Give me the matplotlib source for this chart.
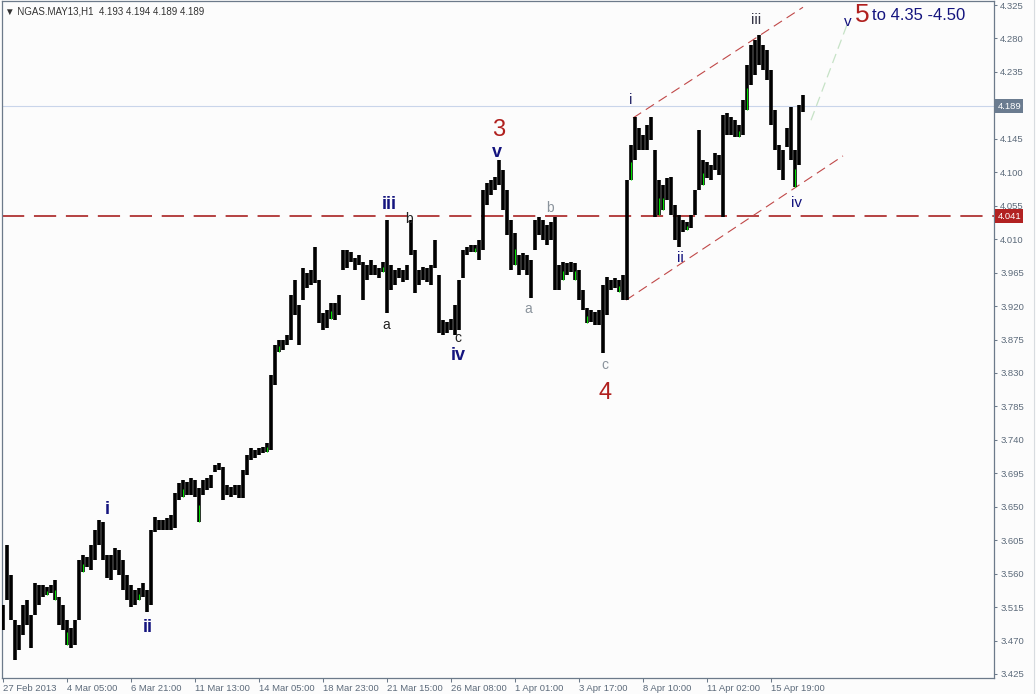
import matplotlib.pyplot as plt
from matplotlib.lines import Line2D

plt.rcParams['font.family'] = ['Liberation Sans', 'DejaVu Sans']
plt.rcParams['lines.scale_dashes'] = False

# NGAS.MAY13 H1, one column = 4 hourly bars
highs = [3.518, 3.599, 3.558, 3.498, 3.491, 3.518, 3.525, 3.504, 3.547, 3.545,
         3.545, 3.542, 3.545, 3.551, 3.529, 3.518, 3.498, 3.487, 3.498, 3.578,
         3.585, 3.582, 3.599, 3.619, 3.632, 3.629, 3.585, 3.585, 3.594, 3.592,
         3.578, 3.558, 3.545, 3.538, 3.541, 3.547, 3.538, 3.619, 3.636, 3.632,
         3.632, 3.635, 3.639, 3.668, 3.682, 3.686, 3.683, 3.689, 3.686, 3.675,
         3.686, 3.689, 3.693, 3.706, 3.709, 3.703, 3.679, 3.677, 3.679, 3.679,
         3.699, 3.720, 3.729, 3.726, 3.729, 3.730, 3.736, 3.827, 3.868, 3.874,
         3.874, 3.881, 3.935, 3.955, 3.921, 3.971, 3.964, 3.968, 3.999, 3.955,
         3.911, 3.915, 3.924, 3.924, 3.935, 3.995, 3.995, 3.993, 3.985, 3.989,
         3.979, 3.975, 3.982, 3.975, 3.971, 3.979, 4.036, 3.975, 3.968, 3.971,
         3.968, 3.975, 4.036, 3.995, 3.968, 3.973, 3.971, 3.975, 4.009, 3.962,
         3.901, 3.899, 3.902, 3.921, 3.955, 3.995, 3.999, 4.002, 4.002, 4.009,
         4.076, 4.086, 4.090, 4.094, 4.116, 4.103, 4.076, 4.036, 4.018, 3.989,
         3.991, 3.989, 3.982, 4.036, 4.040, 4.036, 4.029, 4.033, 4.040, 3.975,
         3.979, 3.978, 3.979, 3.978, 3.968, 3.942, 3.917, 3.915, 3.912, 3.915,
         3.948, 3.959, 3.955, 3.958, 3.955, 3.962, 4.090, 4.137, 4.174, 4.160,
         4.150, 4.164, 4.174, 4.130, 4.090, 4.083, 4.092, 4.094, 4.056, 4.042,
         4.036, 4.033, 4.042, 4.076, 4.157, 4.116, 4.114, 4.110, 4.126, 4.123,
         4.177, 4.180, 4.174, 4.170, 4.164, 4.197, 4.244, 4.271, 4.278, 4.285,
         4.271, 4.264, 4.238, 4.184, 4.137, 4.130, 4.160, 4.188, 4.130, 4.190,
         4.204]
lows = [3.484, 3.525, 3.498, 3.444, 3.457, 3.477, 3.491, 3.460, 3.504, 3.518,
        3.529, 3.531, 3.534, 3.525, 3.491, 3.484, 3.464, 3.460, 3.464, 3.498,
        3.562, 3.569, 3.565, 3.578, 3.599, 3.578, 3.554, 3.551, 3.565, 3.558,
        3.538, 3.525, 3.515, 3.518, 3.525, 3.529, 3.508, 3.518, 3.616, 3.619,
        3.619, 3.619, 3.619, 3.621, 3.659, 3.663, 3.666, 3.666, 3.663, 3.629,
        3.666, 3.673, 3.675, 3.697, 3.699, 3.659, 3.666, 3.663, 3.666, 3.662,
        3.662, 3.693, 3.713, 3.716, 3.720, 3.722, 3.724, 3.726, 3.814, 3.858,
        3.861, 3.868, 3.874, 3.908, 3.868, 3.928, 3.944, 3.948, 3.951, 3.897,
        3.888, 3.890, 3.902, 3.901, 3.908, 3.968, 3.971, 3.979, 3.968, 3.975,
        3.928, 3.955, 3.962, 3.962, 3.958, 3.966, 3.911, 3.942, 3.948, 3.958,
        3.952, 3.955, 3.989, 3.938, 3.948, 3.955, 3.952, 3.948, 3.971, 3.884,
        3.881, 3.884, 3.888, 3.881, 3.888, 3.958, 3.989, 3.993, 3.993, 3.982,
        3.995, 4.056, 4.069, 4.076, 4.083, 4.049, 4.016, 3.968, 3.975, 3.962,
        3.968, 3.962, 3.931, 3.995, 4.016, 4.009, 4.002, 4.009, 3.942, 3.942,
        3.955, 3.962, 3.966, 3.955, 3.928, 3.915, 3.897, 3.899, 3.894, 3.894,
        3.857, 3.908, 3.942, 3.944, 3.939, 3.928, 3.928, 4.090, 4.116, 4.130,
        4.130, 4.130, 4.143, 4.040, 4.042, 4.049, 4.063, 4.042, 4.009, 3.999,
        4.020, 4.022, 4.025, 4.042, 4.076, 4.083, 4.092, 4.090, 4.103, 4.096,
        4.040, 4.150, 4.150, 4.147, 4.147, 4.150, 4.184, 4.217, 4.231, 4.244,
        4.238, 4.224, 4.164, 4.130, 4.103, 4.090, 4.134, 4.116, 4.080, 4.110,
        4.181]
green = [11, 13, 16, 20, 34, 45, 49, 66, 69, 82, 95, 118, 128, 140, 143, 146,
         154, 157, 164, 165, 171, 175, 184, 186, 198]

tick_pos = [0, 16, 32, 48, 64, 80, 96, 112, 128, 144, 160, 176, 192]
tick_labels = ['27 Feb 2013', '4 Mar 05:00', '6 Mar 21:00', '11 Mar 13:00',
               '14 Mar 05:00', '18 Mar 23:00', '21 Mar 15:00', '26 Mar 08:00',
               '1 Apr 01:00', '3 Apr 17:00', '8 Apr 10:00', '11 Apr 02:00',
               '15 Apr 19:00']
price_ticks = [3.425, 3.470, 3.515, 3.560, 3.605, 3.650, 3.695, 3.740, 3.785,
               3.830, 3.875, 3.920, 3.965, 4.010, 4.055, 4.100, 4.145, 4.190,
               4.235, 4.280, 4.325]

last_price = 4.189
level = 4.041
upper_x, upper_y = [157.5, 200], [4.173, 4.322]
lower_x, lower_y = [155.75, 210], [3.928, 4.122]
target_x, target_y = [202, 211.25], [4.170, 4.302]

bg = '#fcfcfc'
axis_col = '#6c7a8a'
navy = '#14147e'
red = '#b0201e'

fig = plt.figure(figsize=(10.36, 6.94), dpi=100, facecolor=bg)
ax = fig.add_axes([2 / 1036, 16 / 694, 992 / 1036, 677 / 694], facecolor=bg)

idx = list(range(len(highs)))
ax.axhline(last_price, color='#c9d5ea', lw=0.8, zorder=1)
ax.axhline(level, color='#a82222', lw=1.2, dashes=(16, 7), zorder=1)

ax.vlines(idx, lows, highs, color='black', lw=2.6, zorder=3)
g_lo = [lows[i] for i in green]
g_hi = [(lows[i] + highs[i]) / 2 for i in green]
ax.vlines(green, g_lo, g_hi, color='#00dd00', lw=0.8, zorder=4)

ax.plot(upper_x, upper_y, color='#c04848', lw=0.8, dashes=(7, 4), zorder=2)
ax.plot(lower_x, lower_y, color='#c04848', lw=0.8, dashes=(7, 4), zorder=2)
ax.plot(target_x, target_y, color='#c6e2c6', lw=0.9, dashes=(7, 4), zorder=2)

ax.set_xlim(-0.25, 247.75)
ax.set_ylim(3.4196, 4.3304)

ax.yaxis.tick_right()
ax.set_yticks(price_ticks)
# the last-price box sits over the 4.190 label
ax.set_yticklabels(['' if abs(v - last_price) < 0.005 else '%.3f' % v
                    for v in price_ticks])
ax.set_xticks(tick_pos)
ax.set_xticklabels(tick_labels, ha='left')
ax.tick_params(axis='both', colors=axis_col, labelcolor='#5c6a7a',
               labelsize=6.8, width=0.75)
ax.tick_params(axis='y', length=2.5, pad=2)
ax.tick_params(axis='x', length=3, pad=1.5)
for s in ax.spines.values():
    s.set_color(axis_col)
    s.set_linewidth(0.9)

# price boxes on the right scale
yt = ax.get_yaxis_transform()
ax.text(1.0035, last_price, '%.3f' % last_price, transform=yt, color='white',
        fontsize=6.8, va='center', ha='left',
        bbox=dict(facecolor='#6b7c90', edgecolor='none', pad=1.6))
ax.text(1.0035, level, '%.3f' % level, transform=yt, color='white',
        fontsize=6.8, va='center', ha='left',
        bbox=dict(facecolor='#b22222', edgecolor='none', pad=1.6))

# wave count labels
def lab(x, y, s, c, size, weight='normal'):
    ax.text(x, y, s, color=c, fontsize=size, fontweight=weight,
            ha='center', va='center', zorder=5, clip_on=False)

lab(26, 3.646, 'i', navy, 13, 'bold')
lab(36.25, 3.488, 'ii', navy, 13, 'bold')
lab(96.5, 4.056, 'iii', navy, 13, 'bold')
lab(113.75, 3.853, 'iv', navy, 13, 'bold')
lab(123.5, 4.127, 'v', navy, 13, 'bold')
lab(124, 4.157, '3', red, 17)
lab(150.5, 3.803, '4', red, 17)
lab(95.75, 3.894, 'a', '#222222', 10)
lab(101.5, 4.037, 'b', '#222222', 10)
lab(113.75, 3.877, 'c', '#222222', 10)
lab(131.25, 3.916, 'a', '#8a939c', 10)
lab(136.75, 4.052, 'b', '#8a939c', 10)
lab(150.5, 3.841, 'c', '#8a939c', 10)
lab(157, 4.197, 'i', '#2a2a6a', 11)
lab(169.25, 3.985, 'ii', navy, 11)
lab(188.25, 4.305, 'iii', '#333344', 11)
lab(198.25, 4.059, 'iv', navy, 11)
lab(211.25, 4.302, 'v', navy, 11)
lab(214.75, 4.312, '5', red, 19)
ax.text(217.3, 4.311, 'to 4.35 -4.50', color=navy, fontsize=12,
        ha='left', va='center', zorder=5)

fig.text(5 / 1036, 1 - 11 / 694, '\u25bc NGAS.MAY13,H1  4.193 4.194 4.189 4.189',
         color='#333333', fontsize=7, va='center', ha='left')
fig.add_artist(Line2D([1034 / 1036, 1034 / 1036], [0, 1], color='#d8dce0',
                      lw=0.8, transform=fig.transFigure))

fig.savefig('out.png', dpi=100, facecolor=bg)
